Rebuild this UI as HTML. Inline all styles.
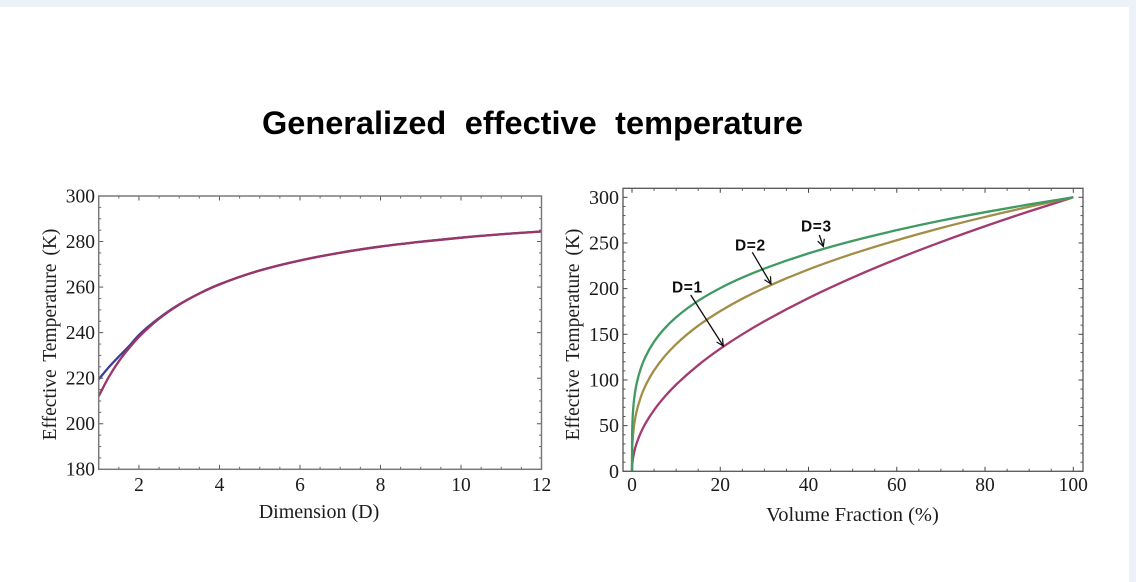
<!DOCTYPE html>
<html lang="en">
<head>
<meta charset="utf-8">
<title>Generalized effective temperature</title>
<style>
  html, body { margin: 0; padding: 0; background: #edf2f9; }
  #stage { position: relative; width: 1136px; height: 582px; overflow: hidden; background: #edf2f9; }
  #panel { position: absolute; left: 0; top: 7px; width: 1129px; height: 575px; background: #fff; }
  svg { position: absolute; left: 0; top: 0; }
  .tick-text { font-family: "Liberation Serif", serif; fill: #1c1c1c; }
  .axis-text { font-family: "Liberation Serif", serif; fill: #1c1c1c; }
  .note-text { font-family: "Liberation Sans", sans-serif; font-weight: bold; font-size: 15.5px; letter-spacing: 0.6px; fill: #111; }
</style>
</head>
<body>
<div id="stage">
  <div id="panel"></div>
  <svg id="chart" width="1136" height="582" viewBox="0 0 1136 582">
    <defs>
      <filter id="soft" x="-2%" y="-2%" width="104%" height="104%"><feGaussianBlur stdDeviation="0.35"/></filter>
      <marker id="arrow-head" markerWidth="9" markerHeight="9" refX="7.5" refY="4" orient="auto" markerUnits="userSpaceOnUse">
        <path d="M0.5,0.5 L7.5,4 L0.5,7.5" fill="none" stroke="#111" stroke-width="1.2"/>
      </marker>
    </defs>
    <text x="262" y="134" font-family="'Liberation Sans', sans-serif" font-weight="bold" font-size="32.5" word-spacing="9.5" fill="#000">Generalized effective temperature</text>
    <g id="plots" filter="url(#soft)"></g>
    <g filter="url(#soft)">
      <text class="note-text" x="672" y="292.5">D=1</text>
      <text class="note-text" x="735" y="250.5">D=2</text>
      <text class="note-text" x="801" y="231.5">D=3</text>
      <line x1="690.7" y1="295" x2="723.3" y2="346" stroke="#111" stroke-width="1.3" marker-end="url(#arrow-head)"/>
      <line x1="752.3" y1="252.3" x2="771" y2="284" stroke="#111" stroke-width="1.3" marker-end="url(#arrow-head)"/>
      <line x1="819.3" y1="235" x2="823.3" y2="246.5" stroke="#111" stroke-width="1.3" marker-end="url(#arrow-head)"/>
    </g>
  </svg>
</div>
<script>
// ---- Left chart data ----
const leftDimensions = [1, 1.25, 1.5, 1.75, 2, 2.5, 3, 3.5, 4, 5, 6, 7, 8, 9, 10, 11, 12];
const leftBlueValues = [219.5, 224.8, 229.5, 234, 239, 246.4, 252.4, 257.2, 261.2, 267.3, 271.7, 275.1, 277.8, 279.9, 281.7, 283.2, 284.4];
const leftRedValues = [212.1, 220.5, 227.4, 233.1, 238.1, 246.1, 252.3, 257.2, 261.2, 267.3, 271.7, 275.1, 277.8, 279.9, 281.7, 283.2, 284.4];
const leftXMajor = [2, 4, 6, 8, 10, 12];
const leftXMinor = [1.5, 2.5, 3, 3.5, 4.5, 5, 5.5, 6.5, 7, 7.5, 8.5, 9, 9.5, 10.5, 11, 11.5];
const leftYMajor = [180, 200, 220, 240, 260, 280, 300];
const leftYMinor = [185, 190, 195, 205, 210, 215, 225, 230, 235, 245, 250, 255, 265, 270, 275, 285, 290, 295];

// ---- Right chart data ----
const rightFractions = [0, 0.02, 0.1, 0.25, 0.5, 1, 2, 3, 5, 7.5, 10, 15, 20, 25, 30, 40, 50, 60, 70, 80, 90, 100];
const rightD1Values = [0, 4.2, 9.5, 15, 21.2, 30, 42.4, 52, 67.1, 82.2, 94.9, 116.2, 134.2, 150, 164.3, 189.7, 212.1, 232.4, 251, 268.3, 284.6, 300];
const rightD2Values = [0, 17.5, 30, 40.7, 51.3, 64.6, 81.4, 93.2, 110.5, 126.5, 139.2, 159.4, 175.4, 189, 200.8, 221, 238.1, 253, 266.4, 278.5, 289.6, 300];
const rightD3Values = [0, 35.7, 53.3, 67.1, 79.8, 94.9, 112.8, 124.9, 141.9, 157, 168.7, 186.7, 200.6, 212.1, 222, 238.6, 252.3, 264, 274.4, 283.7, 292.2, 300];
const rightXMajor = [0, 20, 40, 60, 80, 100];
const rightXMinor = [5, 10, 15, 25, 30, 35, 45, 50, 55, 65, 70, 75, 85, 90, 95];
const rightYMajor = [0, 50, 100, 150, 200, 250, 300];
const rightYMinor = [10, 20, 30, 40, 60, 70, 80, 90, 110, 120, 130, 140, 160, 170, 180, 190, 210, 220, 230, 240, 260, 270, 280, 290];

const SVG_NS = 'http://www.w3.org/2000/svg';
const plotsRoot = document.getElementById('plots');

function make(tag, parent, attrs) {
  const node = document.createElementNS(SVG_NS, tag);
  for (const key in attrs) node.setAttribute(key, attrs[key]);
  parent.appendChild(node);
  return node;
}

function linearScale(d0, d1, r0, r1) {
  return function (v) { return r0 + (v - d0) * (r1 - r0) / (d1 - d0); };
}

// Monotone cubic path through pixel points (Fritsch-Butland tangents)
function monotonePath(px, py) {
  const n = px.length;
  const s = [];
  for (let i = 0; i < n - 1; i++) s.push((py[i + 1] - py[i]) / (px[i + 1] - px[i]));
  const m = [s[0]];
  for (let i = 1; i < n - 1; i++) {
    if (s[i - 1] * s[i] <= 0) { m.push(0); continue; }
    const h0 = px[i] - px[i - 1], h1 = px[i + 1] - px[i];
    m.push(3 * (h0 + h1) / ((2 * h1 + h0) / s[i - 1] + (h1 + 2 * h0) / s[i]));
  }
  m.push(s[n - 2]);
  let d = 'M' + px[0].toFixed(2) + ',' + py[0].toFixed(2);
  for (let i = 0; i < n - 1; i++) {
    const h = (px[i + 1] - px[i]) / 3;
    d += 'C' + (px[i] + h).toFixed(2) + ',' + (py[i] + m[i] * h).toFixed(2) + ' ' +
         (px[i + 1] - h).toFixed(2) + ',' + (py[i + 1] - m[i + 1] * h).toFixed(2) + ' ' +
         px[i + 1].toFixed(2) + ',' + py[i + 1].toFixed(2);
  }
  return d;
}

function drawTicksX(g, xs, values, box, len, color) {
  values.forEach(function (v) {
    const x = xs(v);
    const bottomTick = make('line', g, { x1: x, x2: x, y1: box.bottom, y2: box.bottom - len, stroke: color, 'stroke-width': 1 });
    
    
    const topTick = make('line', g, { x1: x, x2: x, y1: box.top, y2: box.top + len, stroke: color, 'stroke-width': 1 });
    
    
  });
}

function drawTicksY(g, ys, values, box, len, color) {
  values.forEach(function (v) {
    const y = ys(v);
    const leftTick = make('line', g, { x1: box.left, x2: box.left + len, y1: y, y2: y, stroke: color, 'stroke-width': 1 });
    
    
    const rightTick = make('line', g, { x1: box.right, x2: box.right - len, y1: y, y2: y, stroke: color, 'stroke-width': 1 });
    
    
  });
}

function drawSeries(g, xs, ys, xValues, yValues, color, name) {
  const px = xValues.map(xs);
  const py = yValues.map(ys);
  const path = make('path', g, { d: monotonePath(px, py), fill: 'none', stroke: color, 'stroke-width': 2.3, 'stroke-linejoin': 'round' });
  
  
}

function drawFrame(g, box, color, width) {
  const frame = make('rect', g, { x: box.left, y: box.top, width: box.right - box.left, height: box.bottom - box.top, fill: 'none', stroke: color, 'stroke-width': width });
  
  
}

function drawXLabels(g, xs, values, y, size) {
  values.forEach(function (v) {
    const t = make('text', g, { x: xs(v), y: y, 'text-anchor': 'middle', 'font-size': size, class: 'tick-text' });
    t.textContent = String(v);
    
    
  });
}

function drawYLabels(g, ys, values, x, size) {
  values.forEach(function (v) {
    const t = make('text', g, { x: x, y: ys(v) + size * 0.33, 'text-anchor': 'end', 'font-size': size, class: 'tick-text' });
    t.textContent = String(v);
    
    
  });
}

// ---- Left chart ----
const leftBox = { left: 98.7, right: 541.5, top: 196, bottom: 469.3 };
const leftX = linearScale(1, 12, leftBox.left, leftBox.right);
const leftY = linearScale(180, 300, leftBox.bottom, leftBox.top);
const leftGroup = make('g', plotsRoot, {});


drawTicksX(leftGroup, leftX, leftXMajor, leftBox, 4.5, '#555');
drawTicksX(leftGroup, leftX, leftXMinor, leftBox, 2.5, '#666');
drawTicksY(leftGroup, leftY, leftYMajor, leftBox, 4.5, '#555');
drawTicksY(leftGroup, leftY, leftYMinor, leftBox, 2.5, '#666');
drawSeries(leftGroup, leftX, leftY, leftDimensions, leftBlueValues, '#3c3f94', 'series-blue');
drawSeries(leftGroup, leftX, leftY, leftDimensions, leftRedValues, '#9b3668', 'series-red');
drawFrame(leftGroup, leftBox, '#7a7a7a', 1.5);
drawXLabels(leftGroup, leftX, leftXMajor, 491, 19.5);
drawYLabels(leftGroup, leftY, leftYMajor, 95, 19.5);
const leftXTitle = make('text', leftGroup, { x: 319, y: 518, 'text-anchor': 'middle', 'font-size': 20, class: 'axis-text' });
leftXTitle.textContent = 'Dimension (D)';


const leftYTitle = make('text', leftGroup, { transform: 'translate(56,334.5) rotate(-90)', 'text-anchor': 'middle', 'font-size': 19.5, class: 'axis-text', 'word-spacing': 3 });
leftYTitle.textContent = 'Effective Temperature (K)';



// ---- Right chart ----
const rightBox = { left: 623, right: 1083, top: 188.3, bottom: 471.3 };
const rightX = linearScale(0, 100, 632, 1073.3);
const rightY = linearScale(0, 300, 471.3, 197.3);
const rightGroup = make('g', plotsRoot, {});


drawTicksX(rightGroup, rightX, rightXMajor, rightBox, 4.5, '#444');
drawTicksX(rightGroup, rightX, rightXMinor, rightBox, 2.5, '#555');
drawTicksY(rightGroup, rightY, rightYMajor, rightBox, 4.5, '#444');
drawTicksY(rightGroup, rightY, rightYMinor, rightBox, 2.5, '#555');
drawSeries(rightGroup, rightX, rightY, rightFractions, rightD1Values, '#a23a70', 'series-d1');
drawSeries(rightGroup, rightX, rightY, rightFractions, rightD2Values, '#a08e48', 'series-d2');
drawSeries(rightGroup, rightX, rightY, rightFractions, rightD3Values, '#3f9a62', 'series-d3');
drawFrame(rightGroup, rightBox, '#555', 1.3);
drawXLabels(rightGroup, rightX, rightXMajor, 491, 19.5);
drawYLabels(rightGroup, rightY, rightYMajor, 619, 20);
const rightXTitle = make('text', rightGroup, { x: 852.5, y: 521, 'text-anchor': 'middle', 'font-size': 20.5, class: 'axis-text' });
rightXTitle.textContent = 'Volume Fraction (%)';


const rightYTitle = make('text', rightGroup, { transform: 'translate(579,334.5) rotate(-90)', 'text-anchor': 'middle', 'font-size': 19.5, class: 'axis-text', 'word-spacing': 3 });
rightYTitle.textContent = 'Effective Temperature (K)';


</script>
</body>
</html>
